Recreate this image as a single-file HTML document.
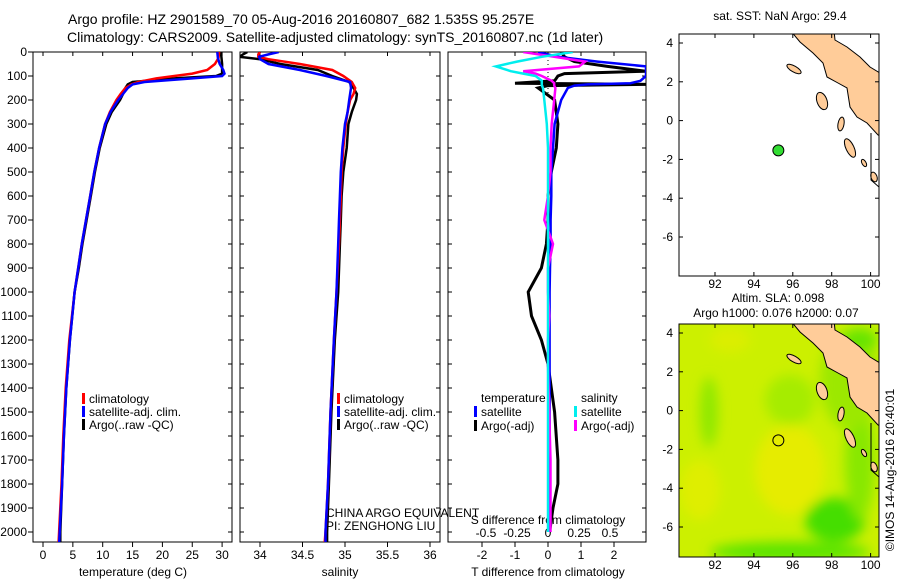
<!DOCTYPE html>
<html><head><meta charset="utf-8"><style>
body{margin:0;background:#fff;width:900px;height:580px;overflow:hidden}
svg{font-family:"Liberation Sans",sans-serif}
</style></head><body>
<svg id="c" width="900" height="580" viewBox="0 0 900 580" xmlns="http://www.w3.org/2000/svg">
<text x="68" y="24" font-size="14">Argo profile: HZ 2901589_70 05-Aug-2016 20160807_682 1.535S 95.257E</text>
<text x="67" y="42" font-size="14">Climatology: CARS2009. Satellite-adjusted climatology: synTS_20160807.nc (1d later)</text>
<text x="780" y="20" font-size="12" text-anchor="middle">sat. SST: NaN Argo: 29.4</text>
<text x="778" y="302" font-size="12" text-anchor="middle">Altim. SLA: 0.098</text>
<text x="776" y="317" font-size="12" text-anchor="middle">Argo h1000: 0.076 h2000: 0.07</text>
<text x="894" y="470" font-size="12" text-anchor="middle" transform="rotate(-90 894 470)">©IMOS 14-Aug-2016 20:40:01</text>
<g id="g"></g>
</svg>
<script>
const NS="http://www.w3.org/2000/svg";
// depth levels (m)
const depthT=[0,25,50,75,90,100,110,125,135,150,175,200,250,300,400,500,600,700,800,900,1000,1200,1400,1600,1800,2000,2050];
const tempClim=[29.5,29.4,28.8,27.5,25,22,19,16,14.8,13.8,13,12.3,11.2,10.4,9.4,8.6,7.9,7.2,6.5,5.9,5.3,4.4,3.8,3.4,3.1,2.7,2.6];
const tempSat=[29.2,29.3,29.6,30.2,30.4,30.0,25,17,15,14.2,13.4,12.6,11.3,10.4,9.4,8.6,7.9,7.2,6.5,5.9,5.3,4.5,3.9,3.5,3.2,2.8,2.7];
const tempArgo=[29.8,29.9,30.0,30.0,30.0,29.0,22,15,14.2,13.8,13.4,12.9,11.5,10.6,9.5,8.7,8.0,7.3,6.6,6.0,5.3,4.5,3.9,3.5,3.2,2.9,2.9];
const depthS=[0,10,20,30,50,75,100,125,150,175,200,250,300,400,500,600,700,800,1000,1200,1500,1800,2000,2050];
const salClim=[34.0,33.98,33.98,34.1,34.47,34.85,34.98,35.08,35.12,35.1,35.06,35.03,35.01,34.98,34.96,34.95,34.94,34.93,34.9,34.87,34.83,34.8,34.77,34.76];
const salSat=[34.22,34.1,33.99,34.0,34.1,34.47,34.78,35.06,35.07,35.06,35.05,35.03,35.0,34.97,34.95,34.94,34.93,34.92,34.9,34.87,34.83,34.8,34.77,34.77];
const salArgo=[33.85,33.8,33.76,34.0,34.24,34.68,34.85,35.05,35.1,35.14,35.13,35.08,35.04,35.02,34.98,34.96,34.95,34.94,34.92,34.88,34.84,34.81,34.79,34.79];
const depthD=[0,20,40,60,80,90,100,120,130,135,140,150,200,300,400,500,600,700,800,900,1000,1100,1200,1300,1500,1700,1800,1900,2000];
const tdSat=[-0.3,0.3,1.5,2.97,2.97,2.97,2.97,2.8,2.5,1.2,0.8,0.6,0.4,0.2,0.15,0.1,0.1,0.08,0.08,0.06,0.05,0.05,0.05,0.05,0.05,0.05,0.05,0.05,0.05];
const tdArgo=[0.4,0.5,0.8,1.8,2.97,0.5,0.3,0.2,-1.0,2.97,0.0,-0.3,0.2,0.3,0.25,0.1,0.0,0.0,-0.05,-0.2,-0.6,-0.5,-0.2,0.0,0.2,0.3,0.3,0.15,0.05];
const sdSat=[0.2,-0.05,-0.25,-0.42,-0.3,-0.2,-0.1,-0.05,-0.05,-0.05,-0.05,-0.04,-0.03,-0.01,0,0,0,0,0,0,0,0,0,0,0,0,0,0,0];
const sdArgo=[-0.2,0.05,0.3,0.25,-0.2,-0.1,-0.05,0.03,0.05,0.05,0.05,0.06,0.05,0.03,0.02,0.02,0.0,-0.03,0.04,0.0,0.0,0.01,0.0,0.0,0.01,0.02,0.02,0.02,0.02];
const depthTicks=[0,100,200,300,400,500,600,700,800,900,1000,1100,1200,1300,1400,1500,1600,1700,1800,1900,2000];
const tempTicks=[0,5,10,15,20,25,30];
const salTicks=[34,34.5,35,35.5,36];
const tdTicks=[-2,-1,0,1,2];
const sdTicks=[-0.5,-0.25,0,0.25,0.5];
const lonTicks=[92,94,96,98,100];
const latTicks=[4,2,0,-2,-4,-6];
const argoLon=95.257, argoLat=-1.535;

const g=document.getElementById('g');
function el(t,a,p){const e=document.createElementNS(NS,t);for(const k in a)e.setAttribute(k,a[k]);(p||g).appendChild(e);return e;}
const yD=d=>52+d*0.24;
const xT=v=>43+v*5.97, xS=v=>260+(v-34)*85, xTD=v=>548+v*33, xSD=v=>548+v*124;
const P=[{x0:33,x1:232,n:'temperature'},{x0:240,x1:440,n:'salinity'},{x0:448,x1:646,n:'difference'}];
const PT=52,PB=542;
function clipFor(i,p){const c=el('clipPath',{id:'cp'+i});el('rect',{x:p.x0,y:PT,width:p.x1-p.x0,height:PB-PT},c);}
P.forEach((p,i)=>{clipFor(i,p);
 const r=el('rect',{x:p.x0,y:PT,width:p.x1-p.x0,height:PB-PT,fill:'none',stroke:'#000','stroke-width':1});
 
 depthTicks.forEach(d=>{el('line',{x1:p.x0-(i==0?5:0),x2:p.x0+(i==0?0:4),y1:yD(d),y2:yD(d),stroke:'#000'});el('line',{x1:p.x1,x2:p.x1-4,y1:yD(d),y2:yD(d),stroke:'#000'});});
});
depthTicks.forEach(d=>{const t=el('text',{x:27,y:yD(d)+4,'font-size':12,'text-anchor':'end'});t.textContent=d;
 });
function xticks(ticks,fx,p,yl){ticks.forEach(v=>{const x=fx(v);
 el('line',{x1:x,x2:x,y1:PB,y2:PB+5,stroke:'#000'});el('line',{x1:x,x2:x,y1:PT,y2:PT+4,stroke:'#000'});
 const t=el('text',{x:x,y:yl,'font-size':12,'text-anchor':'middle'});t.textContent=v;
 });}
xticks(tempTicks,xT,P[0],559);xticks(salTicks,xS,P[1],559);xticks(tdTicks,xTD,P[2],559);
sdTicks.forEach(v=>{const t=el('text',{x:xSD(v),y:537,'font-size':12,'text-anchor':'middle'});t.textContent=v;
 });
[[133,'temperature (deg C)','temperature-axis-title'],[340,'salinity','salinity-axis-title'],[548,'T difference from climatology','t-diff-axis-title']].forEach(a=>{
 const t=el('text',{x:a[0],y:576,'font-size':12,'text-anchor':'middle'});t.textContent=a[1];
 });
{const t=el('text',{x:548,y:524,'font-size':12,'text-anchor':'middle'});t.textContent='S difference from climatology';
 }
[['CHINA ARGO EQUIVALENT',517],['PI: ZENGHONG LIU',530]].forEach(a=>{const t=el('text',{x:326,y:a[1],'font-size':12});t.textContent=a[0];
 });
el('line',{x1:548,x2:548,y1:PT,y2:yD(180),stroke:'#000','stroke-dasharray':'1,3'});
function series(vals,depths,fx,color,ci,name,w){
 const pts=vals.map((v,i)=>fx(v).toFixed(1)+','+yD(depths[i]).toFixed(1)).join(' ');
 const e=el('polyline',{points:pts,fill:'none',stroke:color,'stroke-width':w||2.5,'clip-path':'url(#cp'+ci+')'});
 }
series(tempArgo,depthT,xT,'#000',0,'temp-argo-line');
series(tempClim,depthT,xT,'#f00',0,'temp-clim-line');
series(tempSat,depthT,xT,'#00f',0,'temp-sat-line');
series(salArgo,depthS,xS,'#000',1,'sal-argo-line');
series(salClim,depthS,xS,'#f00',1,'sal-clim-line');
series(salSat,depthS,xS,'#00f',1,'sal-sat-line');
series(tdArgo,depthD,xTD,'#000',2,'tdiff-argo-line',3);
series(tdSat,depthD,xTD,'#00f',2,'tdiff-sat-line');
series(sdArgo,depthD,xSD,'#f0f',2,'sdiff-argo-line');
series(sdSat,depthD,xSD,'#0ee',2,'sdiff-sat-line');
function leg(x,y,color,label,name){if(color)el('rect',{x:x,y:y-10,width:3,height:11,fill:color});
 const t=el('text',{x:x+7,y:y,'font-size':12});t.textContent=label;}
[[82],[337]].forEach((a,i)=>{leg(a[0],403,'#f00','climatology','legend-climatology');leg(a[0],416,'#00f','satellite-adj. clim.','legend-satellite');leg(a[0],429,'#000','Argo(..raw -QC)','legend-argo');});
leg(474,402,null,'temperature','legend-temp-header');leg(474,416,'#00f','satellite','legend-t-satellite');leg(474,430,'#000','Argo(-adj)','legend-t-argo');
leg(574,402,null,'salinity','legend-sal-header');leg(574,416,'#0ee','satellite','legend-s-satellite');leg(574,430,'#f0f','Argo(-adj)','legend-s-argo');
// maps
const M=[{top:34,bot:276,n:'sst-map'},{top:324,bot:557,n:'sla-map'}];
const mxL=lon=>715+(lon-92)*19.45;
const land=[[790,30],[834,30],[835,40],[847,47],[860,57],[870,67],[880,73],[880,136],[878,135],[867,123],[857,117],[850,107],[847,88],[838,83],[827,77],[823,63],[813,53],[800,42]];
M.forEach((m,i)=>{const yL=lat=>m.top+9+(4-lat)*19.4;
 const c=el('clipPath',{id:'mc'+i});el('rect',{x:679,y:m.top,width:200,height:m.bot-m.top},c);
 const grp=el('g',{'clip-path':'url(#mc'+i+')'});
 if(i==1){el('rect',{x:679,y:m.top,width:200,height:m.bot-m.top,fill:'#ccf000'},grp);
  const f=el('filter',{id:'bl'});el('feGaussianBlur',{stdDeviation:6},f);
  const bg=el('g',{filter:'url(#bl)'},grp);
  [[709,412,9,35,'#8ee800'],[790,400,25,25,'#a6ec00'],[790,470,35,45,'#e6ec00'],[700,490,20,30,'#dfee00'],[835,520,30,22,'#44de00'],[790,552,80,10,'#5ae400'],[860,460,15,60,'#88e800'],[850,380,30,50,'#9ce800'],[730,340,20,12,'#dcee00'],[860,340,18,12,'#66e400']].forEach(a=>el('ellipse',{cx:a[0],cy:a[1],rx:a[2],ry:a[3],fill:a[4]},bg));}
 const o=m.top+9-43;
 el('polygon',{points:land.map(p=>p[0]+','+(p[1]+o)).join(' '),fill:'#fc9',stroke:'#000','stroke-width':1},grp);
 [[794,69,8,3,30],[822,101,5,9,-20],[841,124,3,7,10],[850,148,4,10,-25],[864,163,2,4,-30],[874,177,3,5,-20]].forEach(a=>el('ellipse',{cx:a[0],cy:a[1]+o,rx:a[2],ry:a[3],transform:'rotate('+a[4]+' '+a[0]+' '+(a[1]+o)+')',fill:'#fc9',stroke:'#000'},grp));
 el('polyline',{points:'871,'+(133+o)+' 871,'+(180+o)+' 879,'+(187+o),fill:'none',stroke:'#000'},grp);
 el('rect',{x:679,y:m.top,width:200,height:m.bot-m.top,fill:'none',stroke:'#000'});
 lonTicks.forEach(v=>{const x=mxL(v);el('line',{x1:x,x2:x,y1:m.bot,y2:m.bot-4,stroke:'#000'});el('line',{x1:x,x2:x,y1:m.top,y2:m.top+4,stroke:'#000'});
  const t=el('text',{x:x,y:m.bot+12,'font-size':12,'text-anchor':'middle'});t.textContent=v;});
 latTicks.forEach(v=>{const y=yL(v);el('line',{x1:679,x2:683,y1:y,y2:y,stroke:'#000'});el('line',{x1:879,x2:875,y1:y,y2:y,stroke:'#000'});
  const t=el('text',{x:673,y:y+4,'font-size':12,'text-anchor':'end'});t.textContent=v;});
 const pt=el('circle',{cx:mxL(argoLon),cy:yL(argoLat),r:5.5,fill:i==0?'#3d3':'none',stroke:'#000'});
 
});
</script>
</body></html>
